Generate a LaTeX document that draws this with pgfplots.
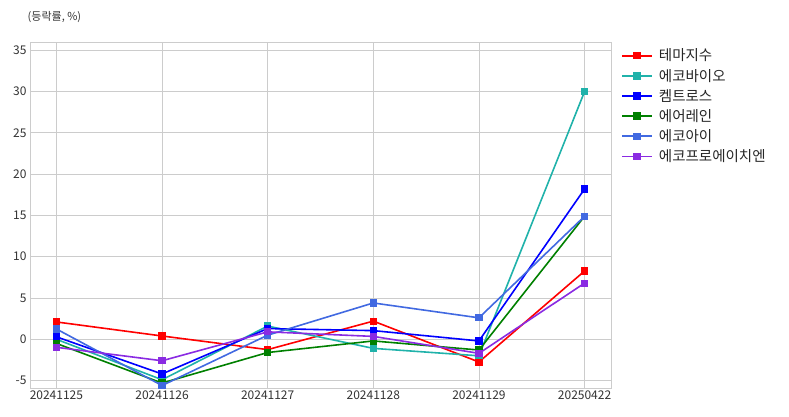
\documentclass[border=0pt]{standalone}
\usepackage{pgfplots}
\pgfplotsset{compat=1.18}
\usepackage{fontspec}
\setmainfont{Noto Sans CJK KR}
\definecolor{cRed}{HTML}{FF0000}
\definecolor{cTeal}{HTML}{20B2AA}
\definecolor{cBlue}{HTML}{0000FF}
\definecolor{cGreen}{HTML}{008000}
\definecolor{cRoyal}{HTML}{4169E1}
\definecolor{cViolet}{HTML}{8A2BE2}
\definecolor{gridc}{HTML}{CCCCCC}
\begin{document}
\begin{tikzpicture}
\begin{axis}[
  scale only axis, width=581bp, height=346bp,
  xmin=-0.25, xmax=5.25, ymin=-5.9, ymax=36,
  xtick={0,1,2,3,4,5},
  xticklabels={20241125,20241126,20241127,20241128,20241129,20250422},
  ytick={-5,0,5,10,15,20,25,30,35},
  grid=major,
  major grid style={gridc, line width=0.8bp},
  axis line style={gridc, line width=0.8bp},
  major tick length=0pt,
  tick label style={font=\fontsize{12bp}{14bp}\selectfont, text=black!80},
  /pgf/number format/assume math mode=true,
  xticklabel style={yshift=1bp},
  clip=false,
  legend style={at={(rel axis cs:1.012,0.992)}, anchor=north west, draw=none, fill=none,
    font=\fontsize{14.5bp}{16bp}\selectfont, row sep=2.7bp, text=black!85,
    nodes={inner xsep=6bp}},
  legend cell align=left,
  legend image code/.code={\draw[line width=1.8bp, mark repeat=2,mark phase=2] plot coordinates {(0bp,0bp) (15bp,0bp) (30bp,0bp)};},
  every axis plot/.append style={line width=1.6bp, mark=square*, mark size=2.8bp},
]
\addplot[cRed, mark options={fill=cRed}] coordinates {(0,2.1) (1,0.4) (2,-1.25) (3,2.2) (4,-2.75) (5,8.27)};
\addlegendentry{테마지수}
\addplot[cTeal, mark options={fill=cTeal}] coordinates {(0,0.0) (1,-4.9) (2,1.6) (3,-1.1) (4,-2.0) (5,30.0)};
\addlegendentry{에코바이오}
\addplot[cBlue, mark options={fill=cBlue}] coordinates {(0,0.3) (1,-4.2) (2,1.3) (3,1.05) (4,-0.2) (5,18.2)};
\addlegendentry{켐트로스}
\addplot[cGreen, mark options={fill=cGreen}] coordinates {(0,-0.5) (1,-5.3) (2,-1.6) (3,-0.2) (4,-1.3) (5,14.9)};
\addlegendentry{에어레인}
\addplot[cRoyal, mark options={fill=cRoyal}] coordinates {(0,1.25) (1,-5.6) (2,0.5) (3,4.4) (4,2.6) (5,14.9)};
\addlegendentry{에코아이}
\addplot[cViolet, mark options={fill=cViolet}] coordinates {(0,-0.97) (1,-2.6) (2,0.9) (3,0.35) (4,-1.7) (5,6.8)};
\addlegendentry{에코프로에이치엔}
\node[anchor=west, font=\fontsize{11bp}{13bp}\selectfont, text=black!80] at (rel axis cs:-0.01,1.072) {(등락률, \%)};
\path (rel axis cs:-0.0516,-0.0809) rectangle (rel axis cs:1.3064,1.1214);
\end{axis}
\end{tikzpicture}
\end{document}
